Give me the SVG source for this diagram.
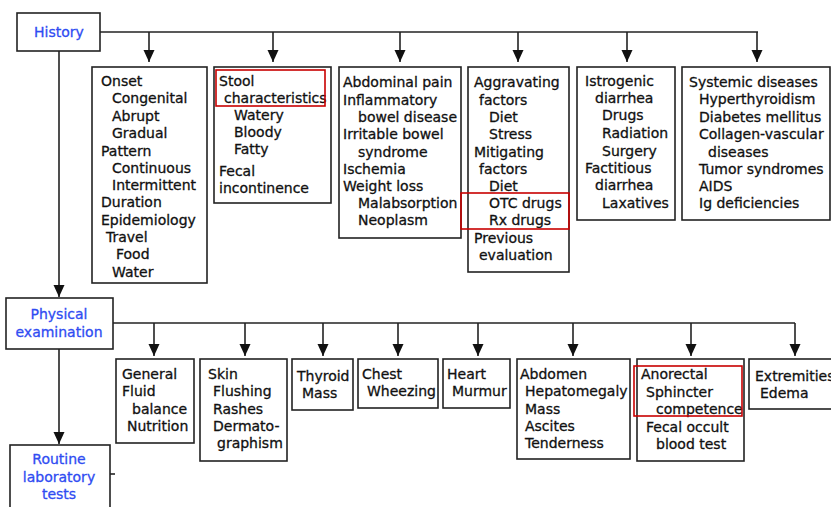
<svg xmlns="http://www.w3.org/2000/svg" width="831" height="507" viewBox="0 0 831 507">
<style>
text{font-family:"DejaVu Sans",Verdana,sans-serif;font-size:14px;fill:#111;stroke:#111;stroke-width:0.3}
.h{fill:#2f4cf2;stroke:#2f4cf2;text-anchor:middle}
.b{fill:#fff;stroke:#222;stroke-width:1.6}
.r{fill:none;stroke:#c80000;stroke-width:1.6}
.c{fill:none;stroke:#222;stroke-width:1.6}
</style>
<defs>
<marker id="m" markerUnits="userSpaceOnUse" markerWidth="12" markerHeight="14" viewBox="-6 -13 12 14" refX="0" refY="0" orient="0">
<path d="M-5.5,-12 L5.5,-12 L0,0 Z" fill="#111"/>
</marker>
</defs>
<g id="connectors">
<path class="c" d="M100,32 H758"/>
<path class="c" d="M149,32 V62" marker-end="url(#m)"/>
<path class="c" d="M273,32 V62" marker-end="url(#m)"/>
<path class="c" d="M400,32 V62" marker-end="url(#m)"/>
<path class="c" d="M518,32 V62" marker-end="url(#m)"/>
<path class="c" d="M627,32 V62" marker-end="url(#m)"/>
<path class="c" d="M757,32 V62" marker-end="url(#m)"/>
<path class="c" d="M59,51 V297" marker-end="url(#m)"/>
<path class="c" d="M113,323 H795"/>
<path class="c" d="M154,323 V356" marker-end="url(#m)"/>
<path class="c" d="M245,323 V356" marker-end="url(#m)"/>
<path class="c" d="M323,323 V356" marker-end="url(#m)"/>
<path class="c" d="M398,323 V356" marker-end="url(#m)"/>
<path class="c" d="M478,323 V356" marker-end="url(#m)"/>
<path class="c" d="M573,323 V356" marker-end="url(#m)"/>
<path class="c" d="M691,323 V356" marker-end="url(#m)"/>
<path class="c" d="M795,323 V356" marker-end="url(#m)"/>
<path class="c" d="M59,349 V444" marker-end="url(#m)"/>
<path class="c" d="M110,474 H115"/>
</g>
<g id="history">
<rect class="b" x="17" y="13" width="83" height="38"/>
<text class="h" x="59" y="37">History</text>
</g>
<g id="onset">
<rect class="b" x="92" y="67" width="115" height="216"/>
<text><tspan x="101" y="86">Onset</tspan><tspan x="112" y="103">Congenital</tspan><tspan x="112" y="121">Abrupt</tspan><tspan x="112" y="138">Gradual</tspan><tspan x="101" y="156">Pattern</tspan><tspan x="112" y="173">Continuous</tspan><tspan x="112" y="190">Intermittent</tspan><tspan x="101" y="207">Duration</tspan><tspan x="101" y="225">Epidemiology</tspan><tspan x="106" y="242">Travel</tspan><tspan x="116" y="259">Food</tspan><tspan x="112" y="277">Water</tspan></text>
</g>
<g id="stool">
<rect class="b" x="214" y="67" width="117" height="136"/>
<text><tspan x="219" y="86">Stool</tspan><tspan x="224" y="103">characteristics</tspan><tspan x="234" y="120">Watery</tspan><tspan x="234" y="137">Bloody</tspan><tspan x="234" y="154">Fatty</tspan><tspan x="219" y="176">Fecal</tspan><tspan x="219" y="193">incontinence</tspan></text>
<rect class="r" x="216" y="70" width="109" height="36"/>
</g>
<g id="abdominal">
<rect class="b" x="339" y="67" width="122" height="171"/>
<text><tspan x="343" y="87">Abdominal pain</tspan><tspan x="343" y="105">Inflammatory</tspan><tspan x="358" y="122">bowel disease</tspan><tspan x="343" y="139">Irritable bowel</tspan><tspan x="358" y="157">syndrome</tspan><tspan x="343" y="174">Ischemia</tspan><tspan x="343" y="191">Weight loss</tspan><tspan x="358" y="208">Malabsorption</tspan><tspan x="358" y="225">Neoplasm</tspan></text>
</g>
<g id="aggravating">
<rect class="b" x="468" y="67" width="101" height="205"/>
<text><tspan x="474" y="87">Aggravating</tspan><tspan x="479" y="105">factors</tspan><tspan x="489" y="122">Diet</tspan><tspan x="489" y="139">Stress</tspan><tspan x="474" y="157">Mitigating</tspan><tspan x="479" y="174">factors</tspan><tspan x="489" y="191">Diet</tspan><tspan x="489" y="208">OTC drugs</tspan><tspan x="489" y="225">Rx drugs</tspan><tspan x="474" y="243">Previous</tspan><tspan x="479" y="260">evaluation</tspan></text>
<rect class="r" x="461" y="193" width="108" height="36"/>
</g>
<g id="iatrogenic">
<rect class="b" x="577" y="67" width="98" height="153"/>
<text><tspan x="585" y="86">Istrogenic</tspan><tspan x="595" y="103">diarrhea</tspan><tspan x="602" y="120">Drugs</tspan><tspan x="602" y="138">Radiation</tspan><tspan x="602" y="156">Surgery</tspan><tspan x="585" y="173">Factitious</tspan><tspan x="595" y="190">diarrhea</tspan><tspan x="602" y="208">Laxatives</tspan></text>
</g>
<g id="systemic">
<rect class="b" x="682" y="67" width="148" height="153"/>
<text><tspan x="689" y="87">Systemic diseases</tspan><tspan x="699" y="104">Hyperthyroidism</tspan><tspan x="699" y="122">Diabetes mellitus</tspan><tspan x="699" y="139">Collagen-vascular</tspan><tspan x="708" y="157">diseases</tspan><tspan x="699" y="174">Tumor syndromes</tspan><tspan x="699" y="191">AIDS</tspan><tspan x="699" y="208">Ig deficiencies</tspan></text>
</g>
<g id="physical">
<rect class="b" x="6" y="298" width="107" height="51"/>
<text class="h"><tspan x="59" y="319">Physical</tspan><tspan x="59" y="337">examination</tspan></text>
</g>
<g id="general">
<rect class="b" x="116" y="359" width="78" height="84"/>
<text><tspan x="122" y="379">General</tspan><tspan x="122" y="396">Fluid</tspan><tspan x="132" y="414">balance</tspan><tspan x="127" y="431">Nutrition</tspan></text>
</g>
<g id="skin">
<rect class="b" x="200" y="359" width="87" height="102"/>
<text><tspan x="208" y="379">Skin</tspan><tspan x="213" y="396">Flushing</tspan><tspan x="213" y="414">Rashes</tspan><tspan x="213" y="431">Dermato-</tspan><tspan x="217" y="448">graphism</tspan></text>
</g>
<g id="thyroid">
<rect class="b" x="292" y="359" width="61" height="51"/>
<text><tspan x="297" y="381">Thyroid</tspan><tspan x="302" y="398">Mass</tspan></text>
</g>
<g id="chest">
<rect class="b" x="358" y="359" width="80" height="49"/>
<text><tspan x="362" y="379">Chest</tspan><tspan x="367" y="396">Wheezing</tspan></text>
</g>
<g id="heart">
<rect class="b" x="443" y="359" width="67" height="49"/>
<text><tspan x="447" y="379">Heart</tspan><tspan x="452" y="396">Murmur</tspan></text>
</g>
<g id="abdomen">
<rect class="b" x="517" y="359" width="113" height="100"/>
<text><tspan x="520" y="379">Abdomen</tspan><tspan x="525" y="396">Hepatomegaly</tspan><tspan x="525" y="414">Mass</tspan><tspan x="525" y="431">Ascites</tspan><tspan x="525" y="448">Tenderness</tspan></text>
</g>
<g id="anorectal">
<rect class="b" x="637" y="359" width="107" height="102"/>
<text><tspan x="641" y="379">Anorectal</tspan><tspan x="646" y="397">Sphincter</tspan><tspan x="656" y="414">competence</tspan><tspan x="646" y="432">Fecal occult</tspan><tspan x="656" y="449">blood test</tspan></text>
<rect class="r" x="634" y="366" width="108" height="50"/>
</g>
<g id="extremities">
<rect class="b" x="749" y="359" width="90" height="50"/>
<text><tspan x="755" y="381">Extremities</tspan><tspan x="760" y="398">Edema</tspan></text>
</g>
<g id="routine">
<rect class="b" x="10" y="445" width="100" height="70"/>
<text class="h"><tspan x="59" y="464">Routine</tspan><tspan x="59" y="482">laboratory</tspan><tspan x="59" y="499">tests</tspan></text>
</g>
</svg>
